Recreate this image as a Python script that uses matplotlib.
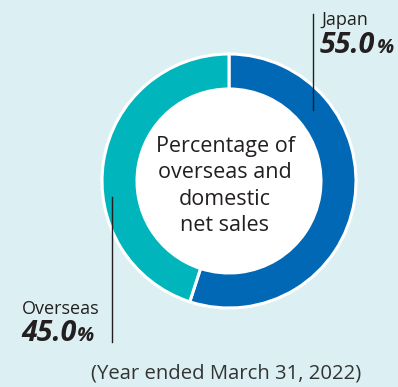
import matplotlib
matplotlib.use("Agg")
import matplotlib.pyplot as plt

# net sales split, year ended March 31, 2022
regions = ["Japan", "Overseas"]
shares = [55.0, 45.0]
colors = ["#0068b5", "#00b5bb"]
center_title = "Percentage of\noverseas and\ndomestic\nnet sales"
footnote = "(Year ended March 31, 2022)"

W, H = 398, 387
BG = "#dcf0f3"
TXT = "#231f20"

plt.rcParams["font.family"] = ["Open Sans", "DejaVu Sans"]

fig = plt.figure(figsize=(W / 100, H / 100), dpi=100, facecolor=BG)
ax = fig.add_axes([0, 0, 1, 1])

cx, cy, r = 229, H - 181, 127
ax.pie(shares, colors=colors, startangle=90, counterclock=False,
       center=(cx, cy), radius=r, frame=True,
       wedgeprops=dict(width=35, edgecolor="white", linewidth=2.2))
ax.add_patch(plt.Circle((cx, cy), r - 35, color="white", zorder=3))
ax.set_xlim(0, W)
ax.set_ylim(0, H)
ax.set_aspect("equal")
ax.axis("off")

ax.text(cx - 4, H - 186, center_title, ha="center", va="center",
        fontsize=15.5, color=TXT, linespacing=1.32, zorder=4)

renderer = fig.canvas.get_renderer()


def value_label(x, y_name, y_num, name, value):
    ax.text(x, H - y_name, name, ha="left", va="baseline", fontsize=13, color=TXT)
    num = ax.text(x - 1, H - y_num, f"{value:.1f}", ha="left", va="baseline",
                  fontsize=20.5, fontweight="bold", fontstyle="italic", color=TXT)
    bb = num.get_window_extent(renderer=renderer)
    x_end = ax.transData.inverted().transform((bb.x1, bb.y0))[0]
    ax.text(x_end + 1, H - y_num, "%", ha="left", va="baseline",
            fontsize=14.5, fontweight="bold", fontstyle="italic", color=TXT)


# leader lines
ax.plot([312.5, 312.5], [H - 14, H - 110], color=TXT, lw=1)
ax.plot([111.5, 111.5], [H - 197, H - 342], color=TXT, lw=1)

value_label(321, 25, 53, regions[0], shares[0])
value_label(22, 314, 341, regions[1], shares[1])

ax.text(91, H - 378, footnote, ha="left", va="baseline", fontsize=14.6, color="#333333")

fig.savefig("out.png", dpi=100, facecolor=BG)
